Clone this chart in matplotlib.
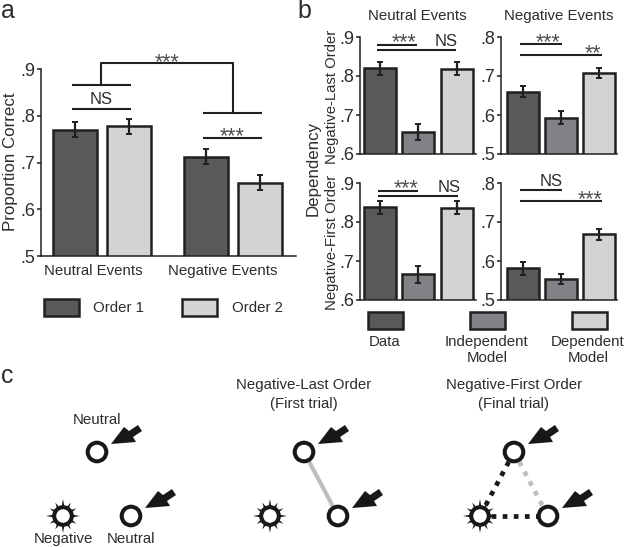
import numpy as np
import matplotlib
matplotlib.use("Agg")
import matplotlib.pyplot as plt
from matplotlib.patches import Polygon, Circle, Rectangle

plt.rcParams["font.family"] = ["Liberation Sans", "DejaVu Sans"]

W, H = 625, 547
DARK, MID, LIGHT = "#58595b", "#808285", "#d1d3d4"
INK = "#231f20"
TXT = "#2e2c2d"

# panel a
a_groups = ["Neutral Events", "Negative Events"]
a_order1 = [0.770, 0.712]
a_order2 = [0.778, 0.657]
a_err1 = [0.016, 0.016]
a_err2 = [0.016, 0.016]

# panel b
nl_neutral = [0.820, 0.657, 0.819]
nl_neutral_err = [0.017, 0.020, 0.017]
nl_negative = [0.660, 0.593, 0.708]
nl_negative_err = [0.015, 0.017, 0.013]
nf_neutral = [0.838, 0.666, 0.837]
nf_neutral_err = [0.017, 0.022, 0.016]
nf_negative = [0.581, 0.554, 0.668]
nf_negative_err = [0.017, 0.013, 0.013]
model_labels = ["Data", "Independent", "Dependent"]


def ylim_ticks(ylim):
    return list(np.arange(ylim[0], ylim[1] + 0.01, 0.1))


def make_axes(x0, x1, ytop, ybot, ylim):
    ax = fig.add_axes([x0 / W, 1 - ybot / H, (x1 - x0) / W, (ybot - ytop) / H])
    ax.set_xlim(x0, x1)
    ax.set_ylim(*ylim)
    ax.patch.set_alpha(0)
    for s in ["top", "right"]:
        ax.spines[s].set_visible(False)
    for s in ["left", "bottom"]:
        ax.spines[s].set_color(INK)
        ax.spines[s].set_linewidth(1.1)
    ax.set_xticks([])
    ax.set_yticks(ylim_ticks(ylim))
    ax.set_yticklabels([("%.1f" % t)[1:] for t in ylim_ticks(ylim)])
    ax.tick_params(axis="y", direction="out", length=3, width=1.1, color=INK,
                   labelcolor=TXT, labelsize=13, pad=1)
    return ax


def bars(ax, xs, vals, errs, colors, width, lw=1.8):
    ax.bar(xs, vals, width=width, color=colors, edgecolor=INK, linewidth=lw, zorder=2)
    ax.errorbar(xs, vals, yerr=errs, fmt="none", ecolor=INK, elinewidth=1.6,
                capsize=2.2, capthick=1.4, zorder=3)


fig = plt.figure(figsize=(W / 100, H / 100), dpi=100)

ax_a = make_axes(41, 296, 69, 256, (0.5, 0.9))
bars(ax_a, [75, 129, 206, 260],
     [a_order1[0], a_order2[0], a_order1[1], a_order2[1]],
     [a_err1[0], a_err2[0], a_err1[1], a_err2[1]],
     [DARK, LIGHT, DARK, LIGHT], 44)

xs_left = [380, 418.5, 457]
xs_right = [523, 561, 599]
colors3 = [DARK, MID, LIGHT]

ax_b1 = make_axes(360, 476, 37, 154, (0.6, 0.9))
bars(ax_b1, xs_left, nl_neutral, nl_neutral_err, colors3, 32)
ax_b2 = make_axes(501, 617, 37, 154, (0.5, 0.8))
bars(ax_b2, xs_right, nl_negative, nl_negative_err, colors3, 32)
ax_b3 = make_axes(360, 476, 183, 300, (0.6, 0.9))
bars(ax_b3, xs_left, nf_neutral, nf_neutral_err, colors3, 32)
ax_b4 = make_axes(501, 617, 183, 300, (0.5, 0.8))
bars(ax_b4, xs_right, nf_negative, nf_negative_err, colors3, 32)

# overlay in pixel coordinates for labels, brackets, legends and diagrams
ov = fig.add_axes([0, 0, 1, 1])
ov.set_xlim(0, W)
ov.set_ylim(H, 0)
ov.axis("off")
ov.patch.set_alpha(0)


def txt(x, y, s, size=10.8, ha="center", va="center", **kw):
    ov.text(x, y, s, fontsize=size, ha=ha, va=va, color=TXT, **kw)


def hline(x0, x1, y, lw=1.5):
    ov.plot([x0, x1], [y, y], color=INK, lw=lw, solid_capstyle="butt")


def stars(x, y, s):
    # asterisks sit high in the font, so y is nudged down to land on the glyphs
    ov.text(x, y + 5, s, fontsize=15.5, ha="center", va="center", color="#4d4d4f")


# panel letters
txt(1, 18, "a", 18, ha="left", va="baseline")
txt(297, 18, "b", 18, ha="left", va="baseline")
txt(1, 383, "c", 18, ha="left", va="baseline")

# panel a text
txt(11, 162, "Proportion Correct", 12.2, rotation=90)
txt(93, 271, a_groups[0], 10.8)
txt(223, 271, a_groups[1], 10.8)

# panel a brackets
hline(72, 131, 84.5)
hline(72, 131, 108.5)
hline(203, 262, 112.5)
hline(203, 262, 138)
ov.plot([101, 101, 232.5, 232.5], [84.5, 63, 63, 112.5], color=INK, lw=1.5)
txt(101.5, 100, "NS", 12)
stars(167, 58, "***")
stars(232.5, 132, "***")

# panel a legend
ov.add_patch(Rectangle((44, 299), 35, 17, fc=DARK, ec=INK, lw=1.8))
ov.add_patch(Rectangle((182, 299), 35, 17, fc=LIGHT, ec=INK, lw=1.8))
txt(93, 308, "Order 1", 10.8, ha="left")
txt(232, 308, "Order 2", 10.8, ha="left")

# panel b text
txt(417, 16, "Neutral Events", 10.8)
txt(559, 16, "Negative Events", 10.8)
txt(332, 97, "Negative-Last Order", 10.7, rotation=90)
txt(332, 242, "Negative-First Order", 10.7, rotation=90)
txt(313, 168, "Dependency", 12.2, rotation=90)

# panel b brackets
hline(377, 417, 44.5)
hline(377, 456, 50)
stars(404, 38, "***")
txt(446.5, 42, "NS", 12)
hline(520, 562, 44)
hline(520, 602, 55)
stars(548, 38, "***")
stars(593, 49, "**")

hline(378, 418, 191)
hline(378, 458, 196)
stars(406, 184, "***")
txt(449, 188, "NS", 12)
hline(520, 562, 190)
hline(520, 602, 201)
txt(551, 182, "NS", 12)
stars(590, 195, "***")

# panel b legend
for x, c in zip([368, 470, 572], colors3):
    ov.add_patch(Rectangle((x, 312), 35, 17, fc=c, ec=INK, lw=1.8))
txt(385, 342, model_labels[0], 10.8)
txt(487, 342, model_labels[1], 10.8)
txt(487, 358, "Model", 10.8)
txt(588, 342, model_labels[2], 10.8)
txt(588, 358, "Model", 10.8)

# panel c titles
txt(97, 420, "Neutral", 10.8)
txt(63, 539, "Negative", 10.8)
txt(131, 539, "Neutral", 10.8)
txt(304, 385, "Negative-Last Order", 10.8)
txt(304, 404, "(First trial)", 10.8)
txt(514, 385, "Negative-First Order", 10.8)
txt(514, 404, "(Final trial)", 10.8)

ARROW = np.array([[14, -8], [27, -25], [32, -21], [41, -27], [45, -21],
                  [36, -15], [39, -10]], dtype=float)


def ring(x, y):
    ov.add_patch(Circle((x, y), 9.3, fc="white", ec="#1a1718", lw=2.9, zorder=5))


def arrow(x, y):
    ov.add_patch(Polygon(ARROW + [x, y], closed=True, fc="#1a1718", ec="none", zorder=5))


def sun(x, y):
    for deg in np.arange(0, 360, 30):
        a = np.deg2rad(deg)
        reach = 17 if deg % 90 == 0 else 15.5
        ux, uy = np.cos(a), np.sin(a)
        px, py = -uy, ux
        ov.add_patch(Polygon([[x + 8 * ux + 1.6 * px, y + 8 * uy + 1.6 * py],
                              [x + 8 * ux - 1.6 * px, y + 8 * uy - 1.6 * py],
                              [x + reach * ux, y + reach * uy]],
                             fc="#1a1718", ec="none", zorder=4))
    ov.add_patch(Circle((x, y), 8.8, fc="white", ec="#1a1718", lw=2.9, zorder=5))


def triple(xoff):
    return (97 + xoff, 452), (131 + xoff, 516), (63 + xoff, 516)


# left diagram
top, right, left = triple(0)
ring(*top); arrow(*top); ring(*right); arrow(*right); sun(*left)

# middle diagram
top, right, left = triple(207)
ov.plot([top[0], right[0]], [top[1], right[1]], color="#bcbec0", lw=3.0, zorder=3)
ring(*top); arrow(*top); ring(*right); arrow(*right); sun(*left)

# right diagram
top, right, left = triple(417)
ov.plot([top[0], left[0]], [top[1], left[1]], color="#1a1718", lw=3.4,
        dashes=(1, 1.35), zorder=3)
ov.plot([left[0], right[0]], [left[1], right[1]], color="#1a1718", lw=3.4,
        dashes=(1, 1.35), zorder=3)
ov.plot([top[0], right[0]], [top[1], right[1]], color="#bcbec0", lw=3.4,
        dashes=(1, 1.35), zorder=3)
ring(*top); arrow(*top); ring(*right); arrow(*right); sun(*left)

fig.savefig("out.png", dpi=100)
